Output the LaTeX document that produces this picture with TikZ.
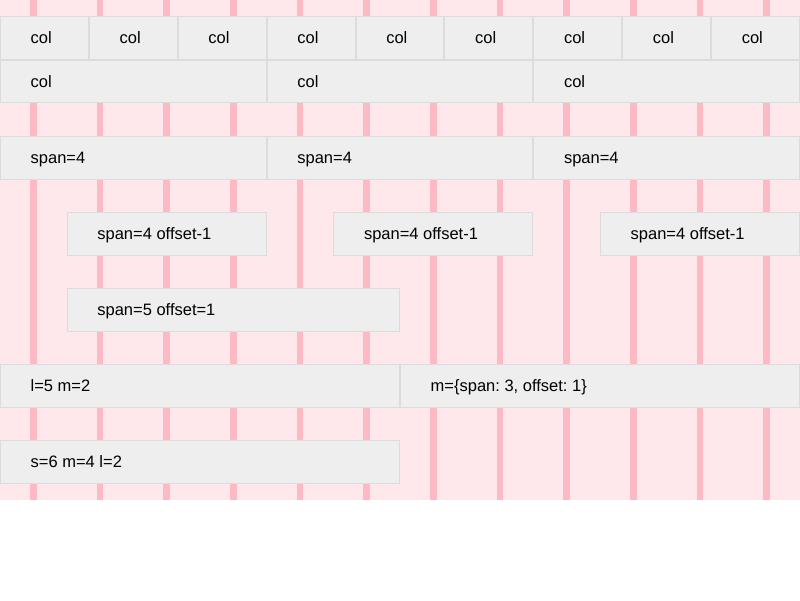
\documentclass[tikz,border=0pt]{standalone}
\usepackage{fontspec}
\setmainfont{Liberation Sans}
\definecolor{bgpink}{HTML}{FFE8EB}
\definecolor{stripe}{HTML}{FDBAC4}
\definecolor{boxfill}{HTML}{EEEEEE}
\definecolor{boxline}{HTML}{DCDCDC}
\tikzset{
  gbox/.style={draw=boxline, fill=boxfill, line width=1pt, inner sep=0pt, rectangle},
  glabel/.style={anchor=base west, inner sep=0pt, font=\fontsize{16.5}{19}\selectfont\frenchspacing, text=black},
}
\newcommand\gbox[5]{%
  \node[gbox, minimum width={(#3)-(#2)-1}, minimum height=42.5] (#1) at ({((#2)+(#3))/2},{#4+21.75}) {};
  \node[glabel] (#1t) at ({(#2)+30.5},{#4+27.6}) {#5};
}
\begin{document}
\begin{tikzpicture}[x=1pt,y=-1pt]
\useasboundingbox (0,0) rectangle (800,600);
\fill[white] (0,0) rectangle (800,600);
\fill[bgpink] (0,0) rectangle (800,500);
\foreach \k in {0,...,11}{
  \fill[stripe] ({33.333+66.667*\k-3.333},0) rectangle ({33.333+66.667*\k+3.333},500);
}
% row 1
\foreach \i in {0,...,8}{
  \gbox{a\i}{88.889*\i}{88.889*(\i+1)}{16}{col}
}
% row 2
\foreach \i in {0,1,2}{
  \gbox{b\i}{266.667*\i}{266.667*(\i+1)}{59.5}{col}
}
% row 3
\foreach \i in {0,1,2}{
  \gbox{c\i}{266.667*\i}{266.667*(\i+1)}{136}{span=4}
}
% row 4
\foreach \i in {0,1,2}{
  \gbox{d\i}{266.667*\i+66.667}{266.667*(\i+1)}{212}{span=4 offset-1}
}
% row 5
\gbox{e0}{66.667}{400}{288}{span=5 offset=1}
% row 6
\gbox{f0}{0}{400}{364}{l=5 m=2}
\gbox{f1}{400}{800}{364}{m=\{span: 3, offset: 1\}}
% row 7
\gbox{g0}{0}{400}{440}{s=6 m=4 l=2}
\end{tikzpicture}
\end{document}
